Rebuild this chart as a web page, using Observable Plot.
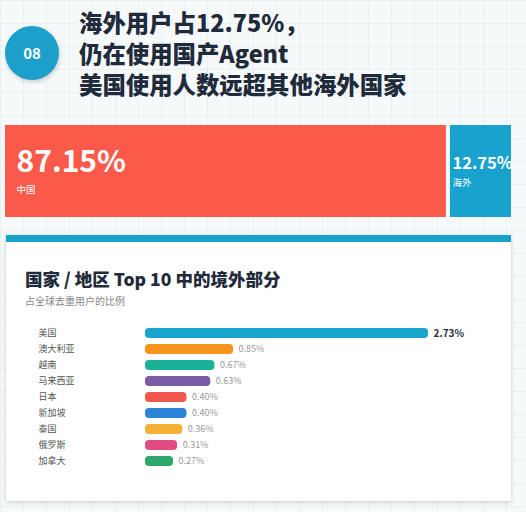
<!DOCTYPE html>
<html>
<head>
<meta charset="utf-8">
<script src="https://cdn.jsdelivr.net/npm/d3@7"></script>
<script src="https://cdn.jsdelivr.net/npm/@observablehq/plot@0.6"></script>
<style>
  html, body { margin: 0; padding: 0; }
  body {
    width: 526px; height: 512px; position: relative; overflow: hidden;
    font-family: "Noto Sans CJK SC", "Noto Sans", sans-serif;
    background-color: #f6f9fa;
    background-image:
      linear-gradient(to right, rgba(195,212,220,0.25) 1px, transparent 1px),
      linear-gradient(to bottom, rgba(195,212,220,0.25) 1px, transparent 1px);
    background-size: 23px 23px;
  }
  .badge {
    position: absolute; left: 5px; top: 26px; width: 54px; height: 54px;
    border-radius: 50%; background: #1c9fcb; color: #fff;
    font-weight: 700; font-size: 15px; line-height: 54px; text-align: center;
    box-shadow: 1px 2px 4px rgba(0,0,0,0.18);
  }
  .title {
    position: absolute; left: 79px; top: 7px; margin: 0;
    font-size: 23.4px; font-weight: 800; line-height: 31px; color: #1f2b3b;
  }
  #topbar { position: absolute; left: 0; top: 115px; }
  .card {
    position: absolute; left: 6px; top: 235px; width: 505px; height: 266px;
    background: #fff; border-top: 7px solid #19a3cb; box-sizing: border-box;
    box-shadow: 0 1px 4px rgba(0,0,0,0.2);
  }
  .card h2 {
    position: absolute; left: 19px; top: 25px; margin: 0;
    font-size: 17.5px; font-weight: 800; color: #1f2b3b; line-height: 24px;
  }
  .card .sub {
    position: absolute; left: 19px; top: 52px; margin: 0;
    font-size: 10px; color: #888; line-height: 14px;
  }
  #bars { position: absolute; left: 0; top: 315px; }
</style>
</head>
<body>
<div class="badge">08</div>
<div class="title">海外用户占12.75%，<br>仍在使用国产Agent<br>美国使用人数远超其他海外国家</div>
<div id="topbar"></div>
<div class="card">
  <h2>国家 / 地区 Top 10 中的境外部分</h2>
  <div class="sub">占全球去重用户的比例</div>
</div>
<div id="bars"></div>
<script>
// Top split
const splitNames = ["中国", "海外"];
const splitValues = [87.15, 12.75];
const splitColors = ["#fb5a4b", "#18a2cd"];

// Top 10 overseas
const countries = ["美国", "澳大利亚", "越南", "马来西亚", "日本", "新加坡", "泰国", "俄罗斯", "加拿大"];
const shares = [2.73, 0.85, 0.67, 0.63, 0.40, 0.40, 0.36, 0.31, 0.27];
const palette = ["#17a5cc", "#f7941d", "#1bb09a", "#7a5ba6", "#f2574b", "#2b84d6", "#f3b236", "#e14b84", "#2da56b"];

const split = splitNames.map((name, i) => ({name, value: splitValues[i]}));
const rows = countries.map((country, i) => ({country, value: shares[i]}));

const font = "'Noto Sans CJK SC', 'Noto Sans', sans-serif";
const pct = d => d.value.toFixed(2) + "%";

const splitChart = Plot.plot({
  width: 526, height: 110,
  marginLeft: 3, marginRight: 13, marginTop: 10, marginBottom: 8,
  style: {fontFamily: font, background: "transparent", overflow: "visible"},
  x: {domain: [0, d3.sum(splitValues)], axis: null},
  color: {domain: splitNames, range: splitColors},
  marks: [
    Plot.barX(split, Plot.stackX({x: "value", fill: "name", insetLeft: 2, insetRight: 2})),
    Plot.text(split, Plot.stackX1({x: "value", text: d => d.name === "中国" ? pct(d) : null, textAnchor: "start", dx: 13, dy: -9, fill: "#fff", fontSize: 30, fontWeight: 700})),
    Plot.text(split, Plot.stackX1({x: "value", text: d => d.name === "中国" ? d.name : null, textAnchor: "start", dx: 13, dy: 18, fill: "#fff", fontSize: 9.5})),
    Plot.text(split, Plot.stackX1({x: "value", text: d => d.name === "海外" ? pct(d) : null, textAnchor: "start", dx: 4, dy: -8, fill: "#fff", fontSize: 16.5, fontWeight: 700})),
    Plot.text(split, Plot.stackX1({x: "value", text: d => d.name === "海外" ? d.name : null, textAnchor: "start", dx: 4, dy: 11, fill: "#fff", fontSize: 9.5}))
  ]
});
document.getElementById("topbar").appendChild(splitChart);

const barChart = Plot.plot({
  width: 526, height: 165,
  marginLeft: 145, marginRight: 98, marginTop: 8, marginBottom: 8,
  style: {fontFamily: font, background: "transparent", overflow: "visible"},
  x: {domain: [0, d3.max(shares)], axis: null},
  y: {domain: countries, axis: null, paddingInner: 0.36, paddingOuter: 0.18},
  color: {domain: countries, range: palette},
  marks: [
    Plot.barX(rows, {x: "value", y: "country", fill: "country", rx: 4}),
    Plot.text(rows, {y: "country", text: "country", frameAnchor: "left", textAnchor: "start", dx: -107, fill: "#555", fontSize: 9}),
    Plot.text(rows.slice(0, 1), {x: "value", y: "country", text: pct, textAnchor: "start", dx: 5, fill: "#2a2f3a", fontSize: 10, fontWeight: 700}),
    Plot.text(rows.slice(1), {x: "value", y: "country", text: pct, textAnchor: "start", dx: 5, fill: "#999", fontSize: 9})
  ]
});
document.getElementById("bars").appendChild(barChart);
</script>
</body>
</html>
